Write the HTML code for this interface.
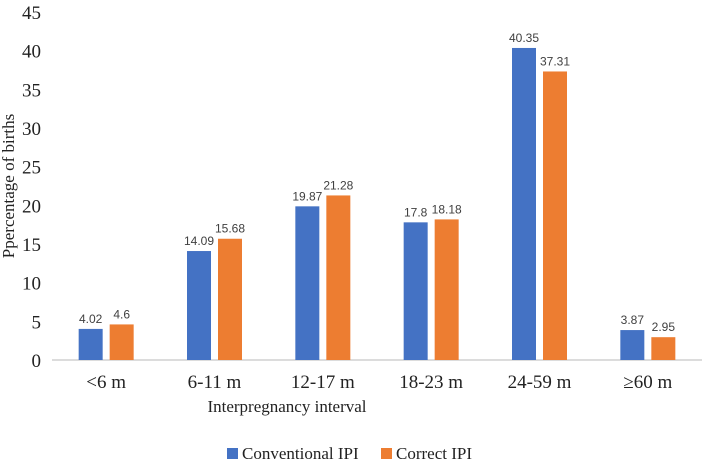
<!DOCTYPE html>
<html><head><meta charset="utf-8"><style>
body{margin:0;background:#fff;}
svg{display:block;}
</style></head><body>
<svg id="chart" width="709" height="461">
<g id="axes"></g><g id="bars"></g><g id="labels"></g>
<text x="14" y="186" transform="rotate(-90 14 186)" text-anchor="middle" font-family="Liberation Serif, serif" font-size="17" fill="#222">Ppercentage of births</text>
<text x="287" y="412" text-anchor="middle" font-family="Liberation Serif, serif" font-size="17" fill="#222">Interpregnancy interval</text>
<g>
<rect x="227" y="448" width="11" height="11" fill="#4472C4"></rect>
<text x="242" y="459" font-family="Liberation Serif, serif" font-size="17" fill="#222">Conventional IPI</text>
<rect x="381" y="448" width="11" height="11" fill="#ED7D31"></rect>
<text x="396" y="459" font-family="Liberation Serif, serif" font-size="17" fill="#222">Correct IPI</text>
</g>
</svg>
<script>
const categories=["<6 m","6-11 m","12-17 m","18-23 m","24-59 m","≥60 m"];
const conventional=[4.02,14.09,19.87,17.8,40.35,3.87];
const correct=[4.6,15.68,21.28,18.18,37.31,2.95];
const yTicks=[0,5,10,15,20,25,30,35,40,45];
const NS="http://www.w3.org/2000/svg";
const x0=52,x1=702,y0=360,yTop=12,yMax=45;
const band=(x1-x0)/categories.length;
const y=v=>y0-(v/yMax)*(y0-yTop);
const xc=i=>x0+band*(i+0.5);
function mk(tag,attrs,parent,txt){const e=document.createElementNS(NS,tag);for(const k in attrs)e.setAttribute(k,attrs[k]);if(txt!==undefined)e.textContent=txt;document.getElementById(parent).appendChild(e);return e;}
const axisLine=mk('line',{x1:x0,x2:x1,y1:y0,y2:y0,stroke:'#d0d0d0','stroke-width':1.5},'axes');


yTicks.forEach(t=>{
  const e=mk('text',{x:41,y:y(t)+7,'text-anchor':'end','font-family':'Liberation Serif, serif','font-size':19,fill:'#222'},'axes',t);
  
  
});
categories.forEach((c,i)=>{
  const e=mk('text',{x:xc(i),y:388,'text-anchor':'middle','font-family':'Liberation Serif, serif','font-size':19,fill:'#222'},'axes',c);
  
  
  const bw=24,gap=7;
  [[conventional,'#4472C4',-1],[correct,'#ED7D31',1]].forEach(([arr,col,s])=>{
    const v=arr[i];
    const bx=s<0?xc(i)-gap/2-bw:xc(i)+gap/2;
    const r=mk('rect',{x:bx,y:y(v),width:bw,height:y0-y(v),fill:col},'bars');
    
    
    const l=mk('text',{x:bx+bw/2,y:y(v)-6,'text-anchor':'middle','font-family':'Liberation Sans, sans-serif','font-size':12,fill:'#404040'},'labels',v);
    
    
  });
});
</script>
</body></html>
